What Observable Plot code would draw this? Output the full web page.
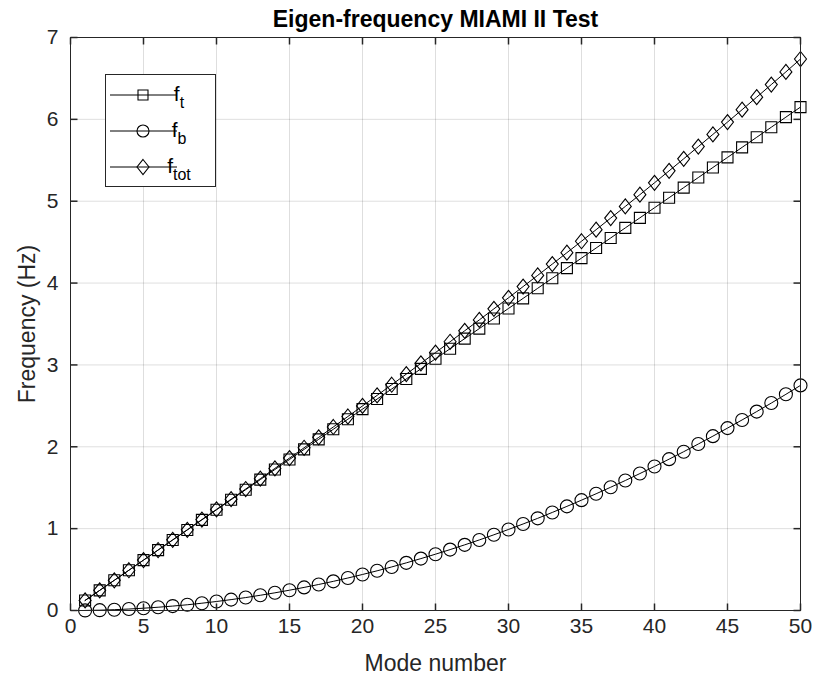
<!DOCTYPE html>
<html><head><meta charset="utf-8">
<script src="https://cdn.jsdelivr.net/npm/d3@7"></script>
<script src="https://cdn.jsdelivr.net/npm/@observablehq/plot@0.6"></script>
<style>body{margin:0;background:#fff}#chart{width:816px;height:686px}</style>
</head><body><div id="chart"></div>
<script>
const titleText = "Eigen-frequency MIAMI II Test";
const xLabel = "Mode number";
const yLabel = "Frequency (Hz)";
const xTicks = [0,5,10,15,20,25,30,35,40,45,50];
const yTicks = [0,1,2,3,4,5,6,7];
const modes = [1,2,3,4,5,6,7,8,9,10,11,12,13,14,15,16,17,18,19,20,21,22,23,24,25,26,27,28,29,30,31,32,33,34,35,36,37,38,39,40,41,42,43,44,45,46,47,48,49,50];
const ft = [0.123,0.246,0.369,0.492,0.615,0.738,0.861,0.984,1.107,1.230,1.353,1.476,1.599,1.722,1.845,1.968,2.091,2.214,2.337,2.460,2.583,2.706,2.829,2.952,3.075,3.198,3.321,3.444,3.567,3.690,3.813,3.936,4.059,4.182,4.305,4.428,4.551,4.674,4.797,4.920,5.043,5.166,5.289,5.412,5.535,5.658,5.781,5.904,6.027,6.150];
const fb = [0.001,0.004,0.010,0.018,0.028,0.040,0.054,0.070,0.089,0.110,0.133,0.158,0.186,0.216,0.248,0.282,0.318,0.356,0.397,0.440,0.485,0.532,0.582,0.634,0.688,0.744,0.802,0.862,0.925,0.990,1.057,1.126,1.198,1.272,1.348,1.426,1.506,1.588,1.673,1.760,1.849,1.940,2.034,2.130,2.228,2.328,2.430,2.534,2.641,2.750];
const ftot = [0.123,0.246,0.369,0.492,0.616,0.739,0.863,0.986,1.111,1.235,1.360,1.484,1.610,1.736,1.862,1.988,2.115,2.242,2.370,2.499,2.628,2.758,2.888,3.019,3.151,3.283,3.417,3.550,3.685,3.820,3.957,4.094,4.232,4.371,4.511,4.652,4.794,4.936,5.080,5.225,5.371,5.518,5.667,5.816,5.967,6.118,6.271,6.425,6.580,6.737];
const legendSubs = ["t","b","tot"];

const data = modes.map((n,i) => ({n, ft: ft[i], fb: fb[i], ftot: ftot[i]}));

const axisColor = "#262626";
const font = "'Liberation Sans', Arial, Helvetica, sans-serif";

const symSquare = {draw(c){const s=5.5; c.moveTo(-s,-s); c.lineTo(s,-s); c.lineTo(s,s); c.lineTo(-s,s); c.closePath();}};
const symCircle = {draw(c){const r=6.5; c.moveTo(r,0); c.arc(0,0,r,0,2*Math.PI);}};
const symDiamond = {draw(c){const h=7.5,w=6; c.moveTo(0,-h); c.lineTo(w,0); c.lineTo(0,h); c.lineTo(-w,0); c.closePath();}};
const tl = 7;
const tickUp = {draw(c){c.moveTo(0,0); c.lineTo(0,-tl);}};
const tickDown = {draw(c){c.moveTo(0,0); c.lineTo(0,tl);}};
const tickRight = {draw(c){c.moveTo(0,0); c.lineTo(tl,0);}};
const tickLeft = {draw(c){c.moveTo(0,0); c.lineTo(-tl,0);}};

const keys = ["ft","fb","ftot"];
const syms = [symSquare, symCircle, symDiamond];

const marks = [
  Plot.gridX(xTicks, {stroke:"#000", strokeOpacity:0.13}),
  Plot.gridY(yTicks, {stroke:"#000", strokeOpacity:0.13}),
  Plot.axisX(xTicks, {tickSize:0, tickPadding:8, fontSize:21, color:axisColor, tickFormat:"d"}),
  Plot.axisY(yTicks, {tickSize:0, tickPadding:12, fontSize:21, color:axisColor, tickFormat:"d"}),
];
keys.forEach((k,i) => {
  marks.push(Plot.line(data, {x:"n", y:k, stroke:"#000", strokeWidth:1}));
  marks.push(Plot.dot(data, {x:"n", y:k, symbol:syms[i], stroke:"#000", fill:"none", strokeWidth:1.1}));
});
marks.push(
  Plot.dot(xTicks, {x:d=>d, frameAnchor:"bottom", symbol:tickUp, stroke:axisColor, fill:"none"}),
  Plot.dot(xTicks, {x:d=>d, frameAnchor:"top", symbol:tickDown, stroke:axisColor, fill:"none"}),
  Plot.dot(yTicks, {y:d=>d, frameAnchor:"left", symbol:tickRight, stroke:axisColor, fill:"none"}),
  Plot.dot(yTicks, {y:d=>d, frameAnchor:"right", symbol:tickLeft, stroke:axisColor, fill:"none"}),
  Plot.frame({stroke:axisColor, strokeWidth:1}),
  Plot.text([titleText], {frameAnchor:"top", dy:-18, lineAnchor:"middle", textAnchor:"middle", fontSize:23, fontWeight:"bold", fill:"#000"}),
  Plot.text([xLabel], {frameAnchor:"bottom", dy:53, lineAnchor:"middle", textAnchor:"middle", fontSize:23, fill:axisColor}),
  Plot.text([yLabel], {frameAnchor:"left", dx:-43, lineAnchor:"middle", textAnchor:"middle", rotate:-90, fontSize:23, fill:axisColor})
);

const chart = Plot.plot({
  width:816, height:686,
  marginLeft:70, marginRight:16, marginTop:37, marginBottom:76,
  style:{fontFamily:font, background:"#fff", color:axisColor},
  x:{domain:[0,50], label:null},
  y:{domain:[0,7], label:null},
  marks
});

// legend
const svg = d3.select(chart);
const lg = svg.append("g").attr("font-family", font);
lg.append("rect").attr("x",105.5).attr("y",74.5).attr("width",110).attr("height",112)
  .attr("fill","#fff").attr("stroke",axisColor);
const rowsY = [95,131,167];
const legSyms = [
  "M-5,-5L5,-5L5,5L-5,5Z",
  "M6,0A6,6 0 1 1 -6,0A6,6 0 1 1 6,0Z",
  "M0,-7.5L6,0L0,7.5L-6,0Z"
];
rowsY.forEach((y,i) => {
  lg.append("line").attr("x1",110).attr("x2",177).attr("y1",y).attr("y2",y).attr("stroke","#000");
  lg.append("path").attr("d",legSyms[i]).attr("transform",`translate(143,${y})`).attr("fill","none").attr("stroke","#000").attr("stroke-width",1.1);
  const t = lg.append("text").attr("x",179).attr("y",y+6).attr("font-size",21).attr("fill","#000");
  t.append("tspan").text("f");
  t.append("tspan").attr("dy",7).attr("font-size",16).text(legendSubs[i]);
});

document.getElementById("chart").appendChild(chart);
</script>
</body></html>
